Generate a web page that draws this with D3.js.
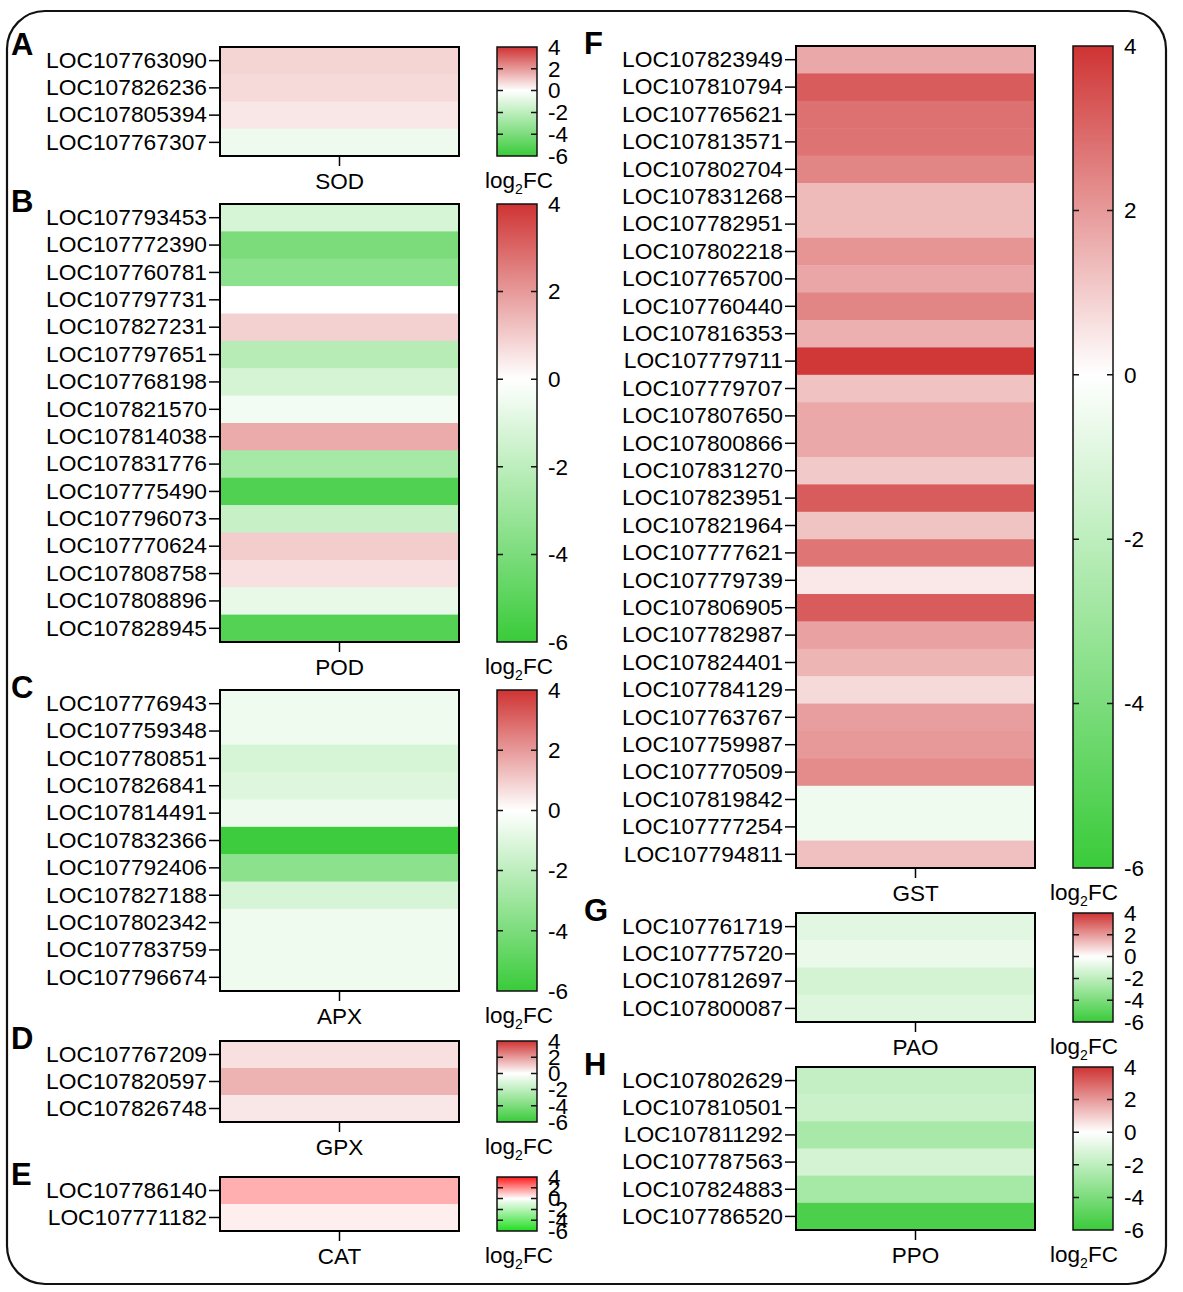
<!DOCTYPE html>
<html lang="en">
<head>
  <meta charset="UTF-8">
  <title>Heatmaps</title>
  <style>
    body { margin: 0; background: #fff; }
    text { font-family: "Liberation Sans", Arial, sans-serif; fill: #000; }
  </style>
</head>
<body>
  <script src="https://d3js.org/d3.v7.min.js"></script>
  <script>
    // log2FC values, one array per enzyme family
    const sodGenes = ['LOC107763090', 'LOC107826236', 'LOC107805394', 'LOC107767307'];
    const sodValues = [0.85, 0.75, 0.5, -0.55];

    const podGenes = ['LOC107793453', 'LOC107772390', 'LOC107760781', 'LOC107797731', 'LOC107827231',
      'LOC107797651', 'LOC107768198', 'LOC107821570', 'LOC107814038', 'LOC107831776', 'LOC107775490',
      'LOC107796073', 'LOC107770624', 'LOC107808758', 'LOC107808896', 'LOC107828945'];
    const podValues = [-1.25, -4.0, -3.5, 0.0, 0.9, -2.2, -1.3, -0.4, 1.65, -2.7, -5.3, -1.7, 1.0, 0.6, -0.7, -5.2];

    const apxGenes = ['LOC107776943', 'LOC107759348', 'LOC107780851', 'LOC107826841', 'LOC107814491',
      'LOC107832366', 'LOC107792406', 'LOC107827188', 'LOC107802342', 'LOC107783759', 'LOC107796674'];
    const apxValues = [-0.5, -0.45, -1.25, -1.05, -0.55, -5.9, -3.5, -1.25, -0.5, -0.5, -0.5];

    const gpxGenes = ['LOC107767209', 'LOC107820597', 'LOC107826748'];
    const gpxValues = [0.6, 1.5, 0.5];

    const catGenes = ['LOC107786140', 'LOC107771182'];
    const catValues = [1.4, 0.3];

    const gstGenes = ['LOC107823949', 'LOC107810794', 'LOC107765621', 'LOC107813571', 'LOC107802704',
      'LOC107831268', 'LOC107782951', 'LOC107802218', 'LOC107765700', 'LOC107760440', 'LOC107816353',
      'LOC107779711', 'LOC107779707', 'LOC107807650', 'LOC107800866', 'LOC107831270', 'LOC107823951',
      'LOC107821964', 'LOC107777621', 'LOC107779739', 'LOC107806905', 'LOC107782987', 'LOC107824401',
      'LOC107784129', 'LOC107763767', 'LOC107759987', 'LOC107770509', 'LOC107819842', 'LOC107777254',
      'LOC107794811'];
    const gstValues = [1.7, 3.2, 2.8, 2.75, 2.4, 1.35, 1.35, 2.1, 1.75, 2.4, 1.55, 3.9, 1.2, 1.7, 1.7,
      1.05, 3.2, 1.15, 2.7, 0.45, 3.2, 1.85, 1.45, 0.75, 1.9, 2.0, 2.25, -0.5, -0.5, 1.25];

    const paoGenes = ['LOC107761719', 'LOC107775720', 'LOC107812697', 'LOC107800087'];
    const paoValues = [-0.9, -0.65, -1.35, -1.0];

    const ppoGenes = ['LOC107802629', 'LOC107810501', 'LOC107811292', 'LOC107787563', 'LOC107824883', 'LOC107786520'];
    const ppoValues = [-1.8, -1.6, -2.65, -1.35, -2.7, -5.45];

    const legendTicks = [4, 2, 0, -2, -4, -6];
    const legendDomain = [-6, 0, 4];

    const width = 1183;
    const height = 1292;
    const font = '"Liberation Sans", Arial, sans-serif';

    const svg = d3.select('body')
                  .append('svg')
                  .attr('width', width)
                  .attr('height', height);
    const defs = svg.append('defs');

    // rounded outer frame
    svg.append('rect')
       .attr('x', 7).attr('y', 11)
       .attr('width', 1159).attr('height', 1273)
       .attr('rx', 38).attr('ry', 38)
       .attr('fill', 'none')
       .attr('stroke', '#111')
       .attr('stroke-width', 2.2);

    const left = { x0: 220, x1: 459, cb0: 497, cb1: 537, letterX: 11, legendX: 519 };
    const right = { x0: 796, x1: 1035, cb0: 1073, cb1: 1113, letterX: 584, legendX: 1084 };

    const normalColors = ['#3acb3a', '#ffffff', '#cf3333'];
    const brightColors = ['#22dd22', '#ffffff', '#ff1a1a'];

    const panels = [
      { letter: 'A', name: 'SOD', genes: sodGenes, values: sodValues, side: left, top: 47, bottom: 156, colors: normalColors },
      { letter: 'B', name: 'POD', genes: podGenes, values: podValues, side: left, top: 204, bottom: 642, colors: normalColors },
      { letter: 'C', name: 'APX', genes: apxGenes, values: apxValues, side: left, top: 690, bottom: 991, colors: normalColors },
      { letter: 'D', name: 'GPX', genes: gpxGenes, values: gpxValues, side: left, top: 1041, bottom: 1122, colors: normalColors },
      { letter: 'E', name: 'CAT', genes: catGenes, values: catValues, side: left, top: 1177, bottom: 1231, colors: brightColors },
      { letter: 'F', name: 'GST', genes: gstGenes, values: gstValues, side: right, top: 46, bottom: 868, colors: normalColors },
      { letter: 'G', name: 'PAO', genes: paoGenes, values: paoValues, side: right, top: 913, bottom: 1022, colors: normalColors },
      { letter: 'H', name: 'PPO', genes: ppoGenes, values: ppoValues, side: right, top: 1067, bottom: 1230, colors: normalColors }
    ];

    const drawPanel = (p, idx) => {
      const s = p.side;
      const color = d3.scaleLinear().domain(legendDomain).range(p.colors);
      const y = d3.scaleBand().domain(p.genes).range([p.top, p.bottom]);
      const x = d3.scaleBand().domain([p.name]).range([s.x0, s.x1]);
      const g = svg.append('g');

      g.selectAll('rect.cell')
       .data(p.genes.map((gene, i) => ({ gene: gene, value: p.values[i] })))
       .enter()
       .append('rect')
       .attr('class', 'cell')
       .attr('x', s.x0)
       .attr('y', d => y(d.gene))
       .attr('width', x.bandwidth())
       .attr('height', y.bandwidth() + 0.5)
       .attr('fill', d => color(d.value));

      g.append('rect')
       .attr('x', s.x0).attr('y', p.top)
       .attr('width', s.x1 - s.x0).attr('height', p.bottom - p.top)
       .attr('fill', 'none').attr('stroke', '#000').attr('stroke-width', 2);

      const yAxis = g.append('g')
                     .attr('transform', 'translate(' + (s.x0 - 1) + ',0)')
                     .call(d3.axisLeft(y).tickSize(10).tickSizeOuter(0).tickPadding(2));
      yAxis.select('.domain').remove();
      yAxis.selectAll('line').attr('stroke', '#000').attr('stroke-width', 1.5);
      yAxis.selectAll('text').attr('font-size', 22.8).attr('font-family', font).attr('fill', '#000');

      const xAxis = g.append('g')
                     .attr('transform', 'translate(0,' + (p.bottom + 1) + ')')
                     .call(d3.axisBottom(x).tickSize(9).tickSizeOuter(0).tickPadding(7));
      xAxis.select('.domain').remove();
      xAxis.selectAll('line').attr('stroke', '#000').attr('stroke-width', 1.5);
      xAxis.selectAll('text').attr('font-size', 22.5).attr('font-family', font).attr('fill', '#000');

      // panel letter
      g.append('text')
       .attr('x', s.letterX).attr('y', p.top + 8)
       .attr('font-size', 31).attr('font-weight', 'bold')
       .text(p.letter);

      // colour legend
      const gradId = 'grad' + idx;
      const cy = d3.scaleLinear().domain([-6, 4]).range([p.bottom, p.top]);
      const grad = defs.append('linearGradient')
                       .attr('id', gradId)
                       .attr('x1', 0).attr('y1', 0).attr('x2', 0).attr('y2', 1);
      d3.range(4, -6.01, -0.5).forEach(v => {
        grad.append('stop')
            .attr('offset', (4 - v) / 10)
            .attr('stop-color', color(v));
      });
      g.append('rect')
       .attr('x', s.cb0).attr('y', p.top)
       .attr('width', s.cb1 - s.cb0).attr('height', p.bottom - p.top)
       .attr('fill', 'url(#' + gradId + ')')
       .attr('stroke', '#111').attr('stroke-width', 1.5);

      g.selectAll('path.inner')
       .data(legendTicks.filter(t => t !== 4 && t !== -6))
       .enter()
       .append('path')
       .attr('class', 'inner')
       .attr('d', t => 'M' + s.cb0 + ',' + cy(t) + 'h6M' + (s.cb1 - 6) + ',' + cy(t) + 'h6')
       .attr('stroke', '#111').attr('stroke-width', 1.5);

      const cAxis = g.append('g')
                     .attr('transform', 'translate(' + s.cb1 + ',0)')
                     .call(d3.axisRight(cy).tickValues(legendTicks).tickSize(0).tickPadding(11)
                             .tickFormat(d => String(d)));
      cAxis.select('.domain').remove();
      cAxis.selectAll('text').attr('font-size', 22.5).attr('font-family', font).attr('fill', '#000');

      const lg = g.append('text')
                  .attr('x', s.legendX).attr('y', p.bottom + 32)
                  .attr('text-anchor', 'middle')
                  .attr('font-size', 22.5);
      lg.append('tspan').text('log');
      lg.append('tspan').attr('font-size', 14).attr('dy', 6).text('2');
      lg.append('tspan').attr('dy', -6).text('FC');
    };

    panels.forEach(drawPanel);
  </script>
</body>
</html>
